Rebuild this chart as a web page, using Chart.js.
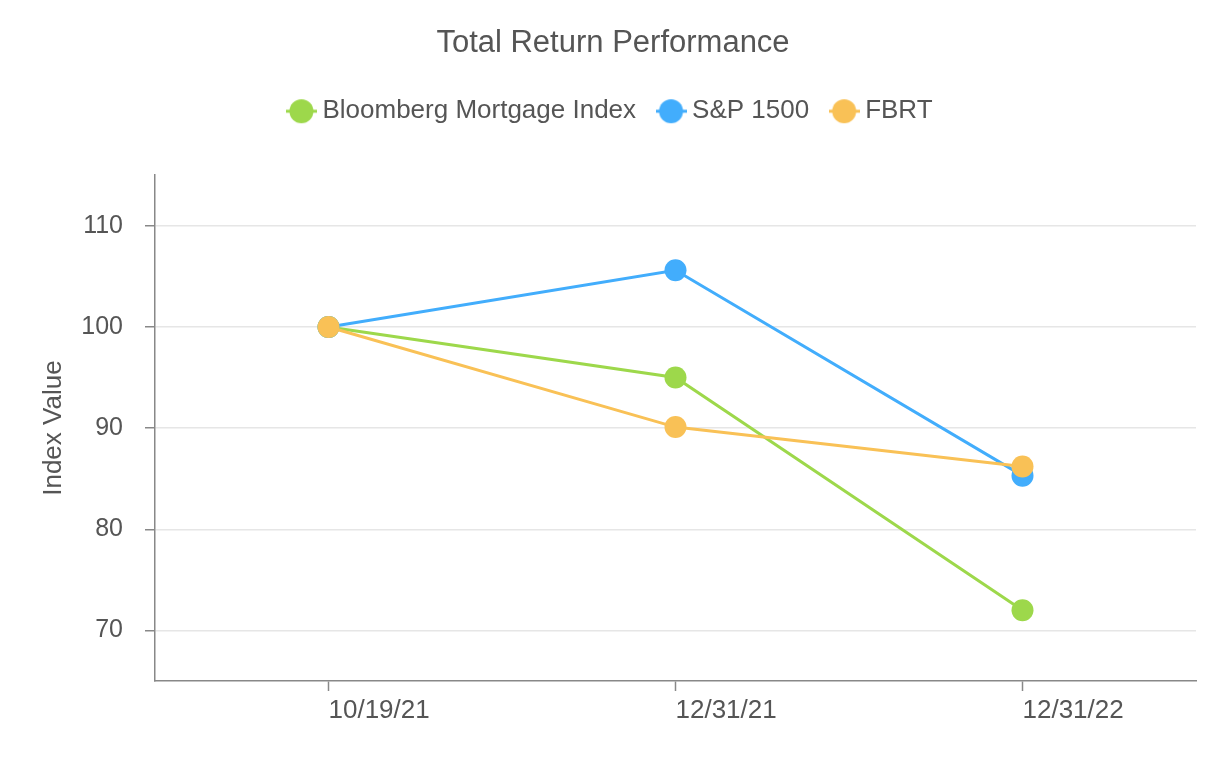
<!DOCTYPE html>
<html>
<head>
<meta charset="utf-8">
<script src="https://cdn.jsdelivr.net/npm/chart.js@4/dist/chart.umd.min.js"></script>
<style>
  html, body { margin: 0; padding: 0; background: #fff; }
  #wrap { width: 1226px; height: 760px; }
</style>
</head>
<body>
<div id="wrap"><canvas id="chart"></canvas></div>
<script>
const labels = ['10/19/21', '12/31/21', '12/31/22'];
const bloomberg = [100, 95.0, 72.0];
const sp1500 = [100, 105.6, 85.3];
const fbrt = [100, 90.1, 86.2];
const yTicks = [70, 80, 90, 100, 110];

const GREEN = '#9dd84b';
const BLUE = '#42adfc';
const ORANGE = '#f9c156';
const TEXT = '#555555';
const FONT = '"Liberation Sans", Arial, Helvetica, sans-serif';

// legend marker: short line with a dot on it
function marker(color) {
  const c = document.createElement('canvas');
  c.width = 31; c.height = 26;
  const ctx = c.getContext('2d');
  ctx.strokeStyle = color;
  ctx.lineWidth = 3;
  ctx.beginPath();
  ctx.moveTo(0, 13); ctx.lineTo(31, 13);
  ctx.stroke();
  ctx.fillStyle = color;
  ctx.beginPath();
  ctx.arc(15.5, 13, 12, 0, Math.PI * 2);
  ctx.fill();
  return c;
}

function series(label, data, color, order) {
  return {
    label: label,
    data: data,
    borderColor: color,
    backgroundColor: color,
    borderWidth: 3,
    pointRadius: 11,
    pointHoverRadius: 11,
    pointBorderWidth: 0,
    pointStyle: 'circle',
    tension: 0,
    order: order,
  };
}

const chart = new Chart(document.getElementById('chart'), {
  type: 'line',
  data: {
    labels: labels,
    datasets: [
      series('Bloomberg Mortgage Index', bloomberg, GREEN, 3),
      series('S&P 1500', sp1500, BLUE, 2),
      series('FBRT', fbrt, ORANGE, 1),
    ],
  },
  options: {
    responsive: true,
    maintainAspectRatio: false,
    animation: false,
    layout: { padding: { left: 30, right: 30, top: 0, bottom: 0 } },
    plugins: {
      title: {
        display: true,
        text: 'Total Return Performance',
        color: TEXT,
        font: { family: FONT, size: 31, weight: 'normal' },
        padding: { top: 25, bottom: 9 },
      },
      // empty spacer that sits between the legend and the plot
      subtitle: {
        display: true,
        text: '',
        weight: 500,
        font: { size: 1, lineHeight: 1 },
        padding: { top: 40, bottom: 0 },
      },
      legend: {
        labels: {
          usePointStyle: true,
          pointStyleWidth: 16,
          color: TEXT,
          font: { family: FONT, size: 26 },
          padding: 27,
          generateLabels: (ch) => ch.data.datasets.map((ds, i) => ({
            text: ds.label,
            pointStyle: marker(ds.borderColor),
            fillStyle: ds.borderColor,
            strokeStyle: ds.borderColor,
            lineWidth: 0,
            fontColor: TEXT,
            hidden: !ch.isDatasetVisible(i),
            datasetIndex: i,
          })),
        },
      },
      tooltip: { enabled: false },
    },
    scales: {
      x: {
        offset: true,
        grid: { drawOnChartArea: false, offset: false, tickLength: 10, tickColor: '#888', tickWidth: 1.5 },
        border: { color: '#888', width: 1.5 },
        ticks: { color: TEXT, font: { family: FONT, size: 26 }, padding: 4, maxRotation: 0, align: 'start' },
        afterFit: (s) => { s.height = 79; },
      },
      y: {
        min: 65,
        max: 115,
        afterBuildTicks: (s) => { s.ticks = yTicks.map(v => ({ value: v })); },
        grid: { color: '#e6e6e6', lineWidth: 1.5, tickLength: 10, tickColor: '#888', tickWidth: 1.5 },
        border: { color: '#888', width: 1.5 },
        ticks: { color: TEXT, font: { family: FONT, size: 25 }, padding: 22 },
        title: {
          display: true,
          text: 'Index Value',
          color: TEXT,
          font: { family: FONT, size: 26 },
          padding: { top: 8, bottom: 0 },
        },
        afterFit: (s) => { s.width = 125; },
      },
    },
  },
});
</script>
</body>
</html>
